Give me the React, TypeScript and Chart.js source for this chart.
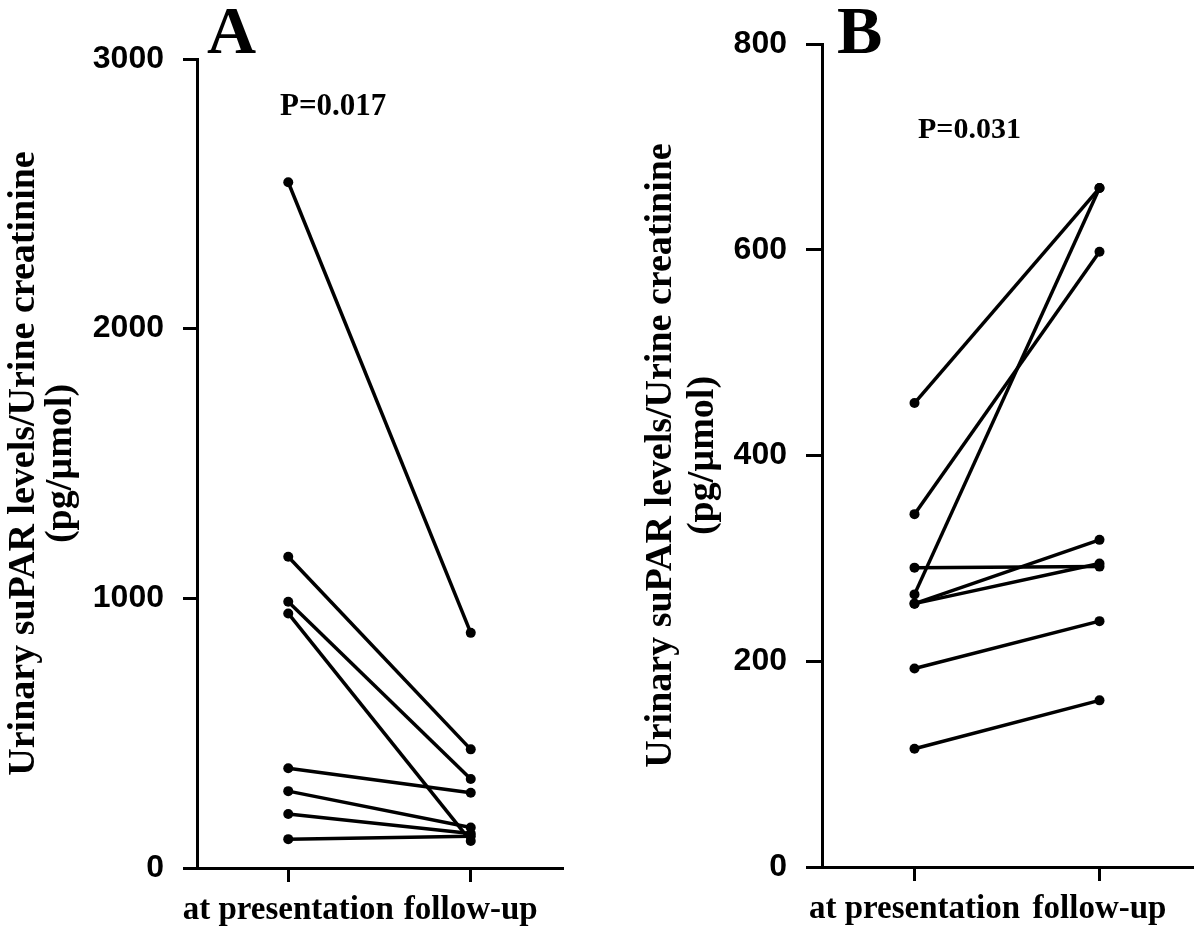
import React, { useEffect, useRef } from "react";
import { Chart, registerables } from "chart.js";

Chart.register(...registerables);

// ---- data ----
const categories = ["at presentation", "follow-up"];

const presentationA = [2543, 1154, 987, 944, 370, 285, 200, 107];
const followUpA = [872, 440, 330, 100, 279, 150, 128, 118];

const presentationB = [451, 343, 291, 265, 256, 256, 193, 115];
const followUpB = [660, 598, 292, 660, 318, 295, 239, 162];

const yTitle = ["Urinary suPAR levels/Urine creatinine", "(pg/µmol)"];
const pValueA = "P=0.017";
const pValueB = "P=0.031";

const SERIF = "'Liberation Serif', 'Times New Roman', serif";
const SANS = "'Liberation Sans', Arial, sans-serif";

type PanelOpts = {
  pre: number[];
  post: number[];
  yMax: number;
  yStep: number;
  letter: string;
  pText: string;
  left: number;
  yWidth: number;
  padTop: number;
  padRight: number;
  xHeight: number;
  yTickLen: number;
  titlePad: number;
  titleLH: number;
  letterPos: [number, number];
  pPos: [number, number];
  pSize: number;
};

function annotationPlugin(o: PanelOpts) {
  return {
    id: "panelText" + o.letter,
    afterDraw(chart: any) {
      const ctx = chart.ctx;
      ctx.save();
      ctx.fillStyle = "#000";
      ctx.textAlign = "left";
      ctx.textBaseline = "alphabetic";
      ctx.font = `bold 68px ${SERIF}`;
      ctx.fillText(o.letter, o.letterPos[0], o.letterPos[1]);
      ctx.font = `bold ${o.pSize}px ${SERIF}`;
      ctx.fillText(o.pText, o.pPos[0], o.pPos[1]);
      ctx.restore();
    },
  };
}

function makeConfig(o: PanelOpts): any {
  const datasets = o.pre.map((v, i) => ({
    data: [v, o.post[i]],
    borderColor: "#000",
    backgroundColor: "#000",
    borderWidth: 3.5,
    pointRadius: 5,
    pointBorderWidth: 0,
    pointBackgroundColor: "#000",
    clip: false,
  }));
  return {
    type: "line",
    data: { labels: categories, datasets },
    plugins: [annotationPlugin(o)],
    options: {
      responsive: false,
      animation: false,
      layout: { padding: { top: o.padTop, right: o.padRight, left: 0, bottom: 0 } },
      plugins: { legend: { display: false }, tooltip: { enabled: false } },
      scales: {
        x: {
          type: "category",
          offset: true,
          grid: {
            display: true,
            drawOnChartArea: false,
            drawTicks: true,
            tickLength: 14,
            color: "#000",
            lineWidth: 3,
            offset: false,
          },
          border: { display: true, color: "#000", width: 3 },
          ticks: {
            color: "#000",
            font: { family: SERIF, size: 33, weight: "bold" },
            padding: 9,
            maxRotation: 0,
            autoSkip: false,
          },
          afterFit: (s: any) => {
            s.height = o.xHeight;
          },
        },
        y: {
          min: 0,
          max: o.yMax,
          grid: {
            display: true,
            drawOnChartArea: false,
            drawTicks: true,
            tickLength: o.yTickLen,
            color: "#000",
            lineWidth: 3,
          },
          border: { display: true, color: "#000", width: 3 },
          ticks: {
            stepSize: o.yStep,
            color: "#000",
            font: { family: SANS, size: 32, weight: "bold" },
            padding: 19,
            callback: (v: any) => String(v),
          },
          title: {
            display: true,
            text: yTitle,
            color: "#000",
            font: { family: SERIF, size: 38, weight: "bold", lineHeight: o.titleLH },
            padding: { top: o.titlePad, bottom: 0 },
          },
          afterFit: (s: any) => {
            s.width = o.yWidth;
          },
        },
      },
    },
  };
}

const panelA: PanelOpts = {
  pre: presentationA,
  post: followUpA,
  yMax: 3000,
  yStep: 1000,
  letter: "A",
  pText: pValueA,
  left: 0,
  yWidth: 197,
  padTop: 59,
  padRight: 38,
  xHeight: 65,
  yTickLen: 14,
  titlePad: 6,
  titleLH: 0.96,
  letterPos: [207, 53],
  pPos: [280, 115],
  pSize: 31,
};

const panelB: PanelOpts = {
  pre: presentationB,
  post: followUpB,
  yMax: 800,
  yStep: 200,
  letter: "B",
  pText: pValueB,
  left: 600,
  yWidth: 222,
  padTop: 44,
  padRight: 8,
  xHeight: 66,
  yTickLen: 16,
  titlePad: 40,
  titleLH: 1.1,
  letterPos: [237, 53],
  pPos: [318, 138],
  pSize: 30,
};

function Panel({ o }: { o: PanelOpts }) {
  const ref = useRef<HTMLCanvasElement | null>(null);
  useEffect(() => {
    if (!ref.current) return;
    const chart = new Chart(ref.current, makeConfig(o));
    return () => chart.destroy();
  }, [o]);
  return (
    <div style={{ position: "absolute", left: o.left, top: 0, width: 600, height: 933 }}>
      <canvas ref={ref} width={600} height={933} style={{ width: 600, height: 933, display: "block" }} />
    </div>
  );
}

export default function App() {
  return (
    <div style={{ position: "absolute", left: 0, top: 0, width: 1200, height: 933, background: "#fff" }}>
      <Panel o={panelA} />
      <Panel o={panelB} />
    </div>
  );
}
